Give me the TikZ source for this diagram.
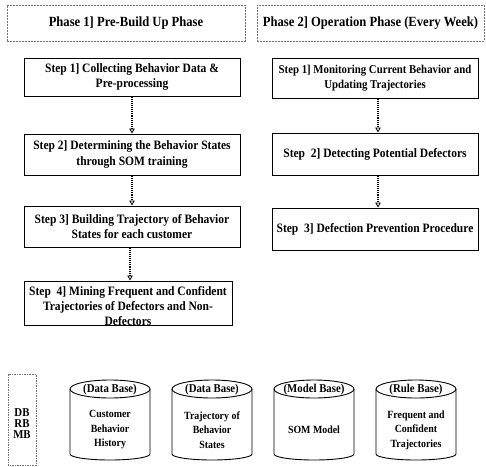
\documentclass[tikz,border=0pt]{standalone}
\usepackage{fontspec}
\setmainfont{Liberation Serif}[FakeStretch=0.9]
\usetikzlibrary{arrows.meta}
\tikzset{
  stepbox/.style={draw=black, line width=1pt, inner sep=0pt, align=center,
    font=\bfseries\fontsize{12.8}{15.5}\selectfont},
  phasebox/.style={draw=black!55, dash pattern=on 2pt off 1pt, line width=0.7pt,
    inner sep=0pt, font=\bfseries\fontsize{14}{16}\selectfont},
  flow/.style={densely dotted, line width=1.1pt,
    -{Triangle[open, length=5pt, width=5.5pt, line width=0.8pt]}},
  cylline/.style={draw=black, line width=0.9pt},
  lbl/.style={font=\bfseries\fontsize{11}{14.5}\selectfont, align=center, inner sep=0pt},
  toplbl/.style={font=\bfseries\fontsize{12}{14}\selectfont, align=center, inner sep=0pt},
}
\newcommand\dbcyl[4]{%
  \draw[cylline] (#1-40,-389) -- (#1-40,-454) arc[start angle=180, end angle=360, x radius=40, y radius=6] -- (#1+40,-389);
  \draw[cylline] (#1,-389) ellipse[x radius=40, y radius=9];
  \node[toplbl] (#2top) at (#1,-390) {#3};
  \node[lbl] (#2body) at (#1,-430) {#4};
}
\begin{document}
\begin{tikzpicture}[x=1pt, y=1pt]
\useasboundingbox[fill=white] (0,0) rectangle (486,-466);

% phase headers
\node[phasebox, minimum width=238, minimum height=36] (P1) at (126,-23) {Phase 1] Pre-Build Up Phase};
\node[phasebox, minimum width=227, minimum height=36] (P2) at (370.5,-23) {Phase 2] Operation Phase (Every Week)};

% left column
\node[stepbox, minimum width=216, minimum height=38] (L1) at (132,-77) {Step 1] Collecting Behavior Data \&\\Pre-processing};
\node[stepbox, minimum width=216, minimum height=41] (L2) at (132,-154.5) {Step 2] Determining the Behavior States\\through SOM training};
\node[stepbox, minimum width=216, minimum height=41] (L3) at (132,-226.5) {Step 3] Building Trajectory of Behavior\\States for each customer};
\node[stepbox, minimum width=208, minimum height=44] (L4) at (128,-303) {};
\node[lbl, font=\bfseries\fontsize{12.8}{15}\selectfont] (L4t) at (128,-306) {Step\ \ 4] Mining Frequent and Confident\\Trajectories of Defectors and Non-\\Defectors};

% right column
\node[stepbox, minimum width=206, minimum height=40, font=\bfseries\fontsize{12}{15.5}\selectfont] (R1) at (375,-78) {Step 1] Monitoring Current Behavior and\\Updating Trajectories};
\node[stepbox, minimum width=206, minimum height=42] (R2) at (375,-154) {Step\ \ 2] Detecting Potential Defectors};
\node[stepbox, minimum width=206, minimum height=42] (R3) at (375,-229) {Step\ \ 3] Defection Prevention Procedure};

% arrows
\draw[flow] (L1.south) -- (L2.north);
\draw[flow] (L2.south) -- (L3.north);
\draw[flow] ([xshift=2pt]L4.north |- L3.south) -- ([xshift=2pt]L4.north);
\draw[flow] ([xshift=3pt]R1.south) -- ([xshift=3pt]R2.north);
\draw[flow] ([xshift=3pt]R2.south) -- ([xshift=3pt]R3.north);

% legend box
\draw[draw=black!55, dash pattern=on 1.5pt off 1pt, line width=0.7pt] (8,-374) rectangle (36,-465);
\node[lbl, font=\bfseries\fontsize{12}{11}\selectfont] (legend) at (22,-424) {DB\\RB\\MB};

% databases
\dbcyl{110}{c1}{(Data Base)}{Customer\\Behavior\\History}
\dbcyl{212}{c2}{(Data Base)}{Trajectory of\\Behavior\\States}
\dbcyl{314}{c3}{(Model Base)}{SOM Model}
\dbcyl{416}{c4}{(Rule Base)}{Frequent and\\Confident\\Trajectories}
\end{tikzpicture}
\end{document}
